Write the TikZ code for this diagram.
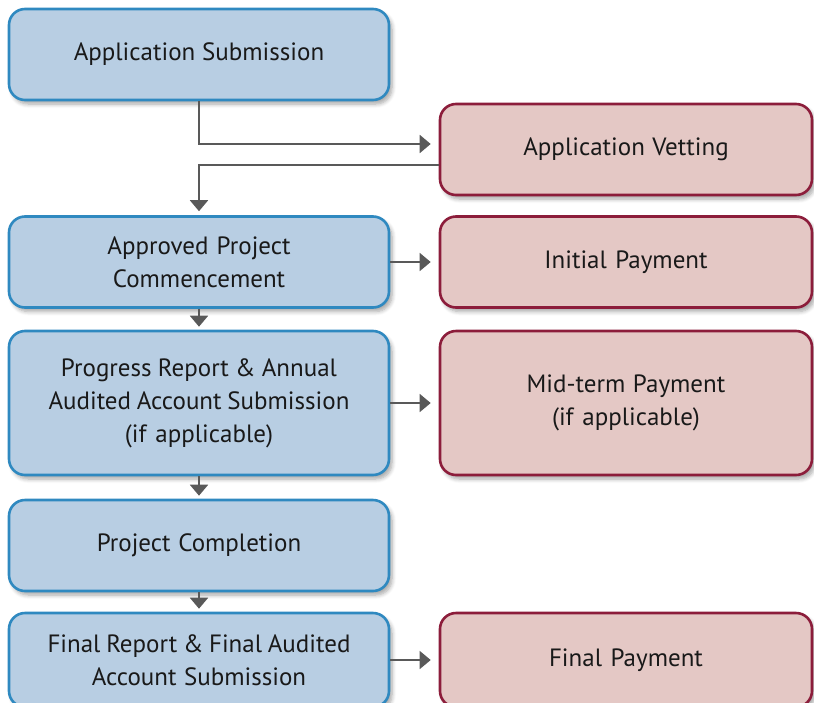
\documentclass[tikz,border=0pt]{standalone}
\usepackage{fontspec}
\setmainfont{PT Sans}
\usetikzlibrary{arrows.meta,shadows.blur}
\definecolor{stepfill}{HTML}{B8CEE3}
\definecolor{stepline}{HTML}{2F89C0}
\definecolor{payfill}{HTML}{E4C8C5}
\definecolor{payline}{HTML}{8C1D3B}
\definecolor{flow}{HTML}{595959}
\tikzset{
	stepbox/.style={draw=stepline, fill=stepfill, line width=1.3pt, rounded corners=8pt,
		minimum width=190pt, minimum height=45.5pt, align=center, text width=180pt,
		font=\fontsize{12.5}{16.5}\selectfont, text=black!90,
		execute at begin node={\spaceskip=2.3pt plus 1pt\relax},
		blur shadow={shadow xshift=1.5pt, shadow yshift=-2pt, shadow blur steps=6, shadow opacity=35}},
	paybox/.style={stepbox, draw=payline, fill=payfill, minimum width=186pt, text width=176pt},
	arr/.style={draw=flow, line width=1pt, -{Triangle[length=5.5pt,width=9pt]}},
	side/.style={arr, line width=0.75pt}
}
\begin{document}
\begin{tikzpicture}[x=0.5pt,y=-0.5pt]
		\useasboundingbox (0,0) rectangle (814,702);
		% main steps on the left
		\node[stepbox] (sub) at (199,54.5) {Application Submission};
		\node[stepbox] (comm) at (199,262) {Approved Project\\Commencement};
		\node[stepbox, minimum height=72pt] (prog) at (199,403) {Progress Report \& Annual\\Audited Account Submission\\(if applicable)};
		\node[stepbox] (compl) at (199,545.5) {Project Completion};
		\node[stepbox, minimum height=47pt] (rep) at (199,660) {Final Report \& Final Audited\\Account Submission};
		% vetting and payments on the right
		\node[paybox] (vet) at (626,149.5) {Application Vetting};
		\node[paybox] (init) at (626,262) {Initial Payment};
		\node[paybox, minimum height=72pt] (mid) at (626,403) {Mid-term Payment\\(if applicable)};
		\node[paybox, minimum height=47pt] (pay) at (626,660) {Final Payment};
		% connectors
		\draw[arr, shorten >=4pt] (sub.south) |- ([yshift=2.75pt]vet.west);
		\draw[arr, shorten >=2pt] ([yshift=-7.75pt]vet.west) -| (comm.north);
		\draw[side, shorten >=4pt] (comm.east) -- (init.west);
		\draw[side, shorten >=4pt] (prog.east) -- (mid.west);
		\draw[side, shorten >=4pt] (rep.east) -- (pay.west);
		\draw[arr, shorten >=1.5pt] (comm.south) -- (prog.north);
		\draw[arr, shorten >=1.5pt] (prog.south) -- (compl.north);
		\draw[arr, shorten >=1.5pt] (compl.south) -- (rep.north);
	\end{tikzpicture}
\end{document}
